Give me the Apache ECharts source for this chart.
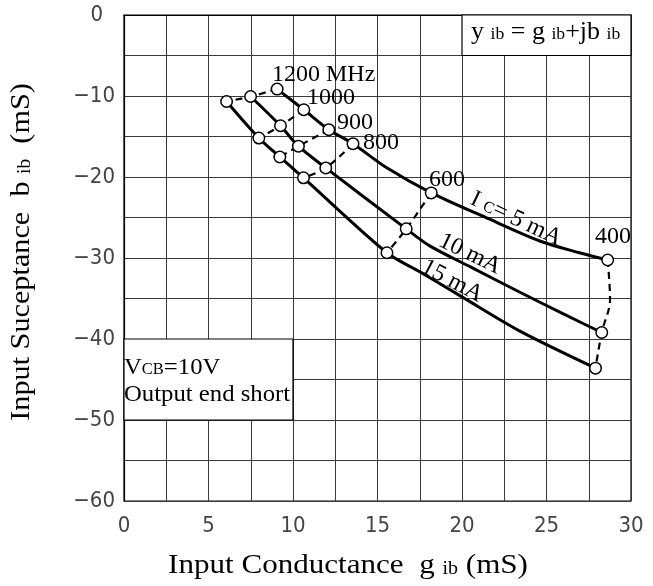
<!DOCTYPE html>
<html><head><meta charset="utf-8">
<script src="https://cdn.jsdelivr.net/npm/echarts@6/dist/echarts.min.js"></script>
<style>html,body{margin:0;padding:0;background:#fff}#c{width:653px;height:586px}</style>
</head><body><div id="c"></div>
<script>
// frequencies of the marked points (MHz)
const freqs = ['1200', '1000', '900', '800', '600', '400'];
// marked points (g ib, b ib) at each frequency, per collector current
const g5  = [9.06, 10.64, 12.12, 13.55, 18.18, 28.62];
const b5  = [-9.15, -11.7, -14.16, -15.89, -21.96, -30.25];
const g10 = [7.49, 9.26, 10.32, 11.94, 16.7, 28.27];
const b10 = [-10.06, -13.67, -16.2, -18.88, -26.4, -39.2];
const g15 = [6.07, 7.98, 9.22, 10.62, 15.56, 27.9];
const b15 = [-10.68, -15.19, -17.53, -20.1, -29.35, -43.6];
// traced curves (markers plus points read between them)
const curve5G  = [9.06, 10.64, 12.12, 13.55, 15.5, 18.18, 21.3, 24.6, 26.95, 28.62];
const curve5B  = [-9.15, -11.7, -14.16, -15.89, -18.8, -21.96, -24.9, -27.9, -29.35, -30.25];
const curve10G = [7.49, 9.26, 10.32, 11.94, 16.7, 18.09, 20.5, 23.4, 26.0, 28.27];
const curve10B = [-10.06, -13.67, -16.2, -18.88, -26.4, -28.5, -31.1, -34.2, -36.9, -39.2];
const curve15G = [6.07, 7.98, 9.22, 10.62, 15.56, 17.5, 20.0, 23.4, 27.9];
const curve15B = [-10.68, -15.19, -17.53, -20.1, -29.35, -31.7, -34.8, -39.0, -43.6];
// 400 MHz locus passes outside between 5 mA and 10 mA
const bulge400G = 28.76;
const bulge400B = -35.1;
// tick labels
const xTicks = [0, 5, 10, 15, 20, 25, 30];
const yTicks = [0, -10, -20, -30, -40, -50, -60];

const zip = (a, b) => a.map((v, i) => [v, b[i]]);

const chart = echarts.init(document.getElementById('c'), null, {renderer: 'canvas'});

const curveStyle = {type: 'line', smooth: 0.3, showSymbol: false, symbol: 'none', silent: true,
  lineStyle: {color: '#000', width: 3}, z: 3};
const dashStyle = {type: 'line', smooth: 0.35, showSymbol: false, symbol: 'none', silent: true,
  lineStyle: {color: '#000', width: 2.2, type: [7, 5]}, z: 2};

const series = [];
series.push(Object.assign({name: '5 mA', data: zip(curve5G, curve5B)}, curveStyle));
series.push(Object.assign({name: '10 mA', data: zip(curve10G, curve10B)}, curveStyle));
series.push(Object.assign({name: '15 mA', data: zip(curve15G, curve15B)}, curveStyle));
freqs.forEach((f, i) => {
  const pts = [[g5[i], b5[i]]];
  if (f === '400') pts.push([bulge400G, bulge400B]);
  pts.push([g10[i], b10[i]], [g15[i], b15[i]]);
  series.push(Object.assign({name: f + ' MHz', data: pts}, dashStyle));
});
series.push({type: 'scatter', name: 'points', silent: true, z: 5,
  data: [].concat(zip(g5, b5), zip(g10, b10), zip(g15, b15)),
  symbol: 'circle', symbolSize: 11.5,
  itemStyle: {color: '#fff', borderColor: '#000', borderWidth: 1.5, opacity: 1}});

const tickFont = "'Liberation Sans Narrow', 'DejaVu Sans Condensed', 'DejaVu Sans', sans-serif";
const serif = "'Liberation Serif', 'DejaVu Serif', serif";

chart.setOption({
  animation: false,
  backgroundColor: '#fff',
  grid: {left: 124, right: 22, top: 15, bottom: 85, show: true, borderColor: '#000', borderWidth: 1.2},
  xAxis: {type: 'value', min: 0, max: 30, interval: 2.5,
    axisLine: {show: true, lineStyle: {color: '#000', width: 1.2}},
    axisTick: {show: false},
    splitLine: {show: true, lineStyle: {color: '#3a3a3a', width: 1}},
    axisLabel: {margin: 14, fontFamily: tickFont, fontSize: 22, color: '#444',
      formatter: v => xTicks.includes(v) ? String(v) : ''}},
  yAxis: {type: 'value', min: -60, max: 0, interval: 5,
    axisLine: {show: true, lineStyle: {color: '#000', width: 1.2}},
    axisTick: {show: false},
    splitLine: {show: true, lineStyle: {color: '#3a3a3a', width: 1}},
    axisLabel: {margin: 9, fontFamily: tickFont, fontSize: 22, color: '#444',
      formatter: v => yTicks.includes(v) ? (v < 0 ? '\u2212' + (-v) : '{z|' + v + '}') : '',
      rich: {z: {fontFamily: tickFont, fontSize: 22, color: '#444', padding: [0, 12, 0, 0]}}}},
  series: series
});

function px(x, y) { return chart.convertToPixel({gridIndex: 0}, [x, y]); }
function boxRect(x0, y0, x1, y1) {
  const a = px(x0, y0), b = px(x1, y1);
  return {type: 'rect', z: 10, shape: {x: Math.min(a[0], b[0]), y: Math.min(a[1], b[1]),
    width: Math.abs(b[0] - a[0]), height: Math.abs(b[1] - a[1])},
    style: {fill: '#fff', stroke: '#000', lineWidth: 1.2}};
}
function txt(x, y, text, opts) {
  opts = opts || {};
  const fs = opts.fs || 24;
  return {type: 'text', z: 20, x: x, y: y, rotation: opts.rot || 0, scaleX: opts.sx || 1,
    style: {text: text, fontFamily: serif, fontSize: fs, fill: '#000',
      align: opts.align || 'left', verticalAlign: opts.va || 'bottom',
      rich: {n: {fontFamily: serif, fontSize: fs, fill: '#000', verticalAlign: 'bottom'},
             s: {fontFamily: serif, fontSize: Math.round(fs * 0.66), fill: '#000', verticalAlign: 'bottom', padding: [0, 0, 2, 0]}}}};
}

chart.setOption({graphic: [
  boxRect(20, 0, 30, -5),
  boxRect(0, -40, 10, -50),
  txt(471, 45, '{n|y} {s|ib} {n|= g} {s|ib}{n|+jb} {s|ib}', {fs: 25, sx: 1.04}),
  txt(124, 380, '{n|V}{s|CB}{n|=10V}', {fs: 24, sx: 1.03}),
  txt(124, 407, '{n|Output end short}', {fs: 24, sx: 1.03}),
  txt(272, 87, '{n|1200 MHz}'),
  txt(307, 110, '{n|1000}'),
  txt(337, 135, '{n|900}'),
  txt(363, 155, '{n|800}'),
  txt(429, 192, '{n|600}'),
  txt(595, 249, '{n|400}'),
  txt(516, 219, '{n|I} {s|C}{n|= 5 mA}', {rot: -25.5 * Math.PI / 180, align: 'center', va: 'middle'}),
  txt(470, 254, '{n|10 mA}', {rot: -26 * Math.PI / 180, align: 'center', va: 'middle'}),
  txt(452, 281, '{n|15 mA}', {rot: -28 * Math.PI / 180, align: 'center', va: 'middle'}),
  txt(348, 580, '{n|Input Conductance  g} {s|ib} {n|(mS)}', {fs: 28, align: 'center', sx: 1.11}),
  {type: 'text', z: 20, x: 22, y: 252, rotation: Math.PI / 2, scaleX: 1.08,
    style: {text: '{n|Input Suceptance  b} {s|ib}  {n|(mS)}', fontFamily: serif, fontSize: 28,
      align: 'center', verticalAlign: 'middle',
      rich: {n: {fontFamily: serif, fontSize: 28, fill: '#000', verticalAlign: 'bottom'},
             s: {fontFamily: serif, fontSize: 18, fill: '#000', verticalAlign: 'bottom', padding: [0, 0, 2, 0]}}}}
]});
</script></body></html>
